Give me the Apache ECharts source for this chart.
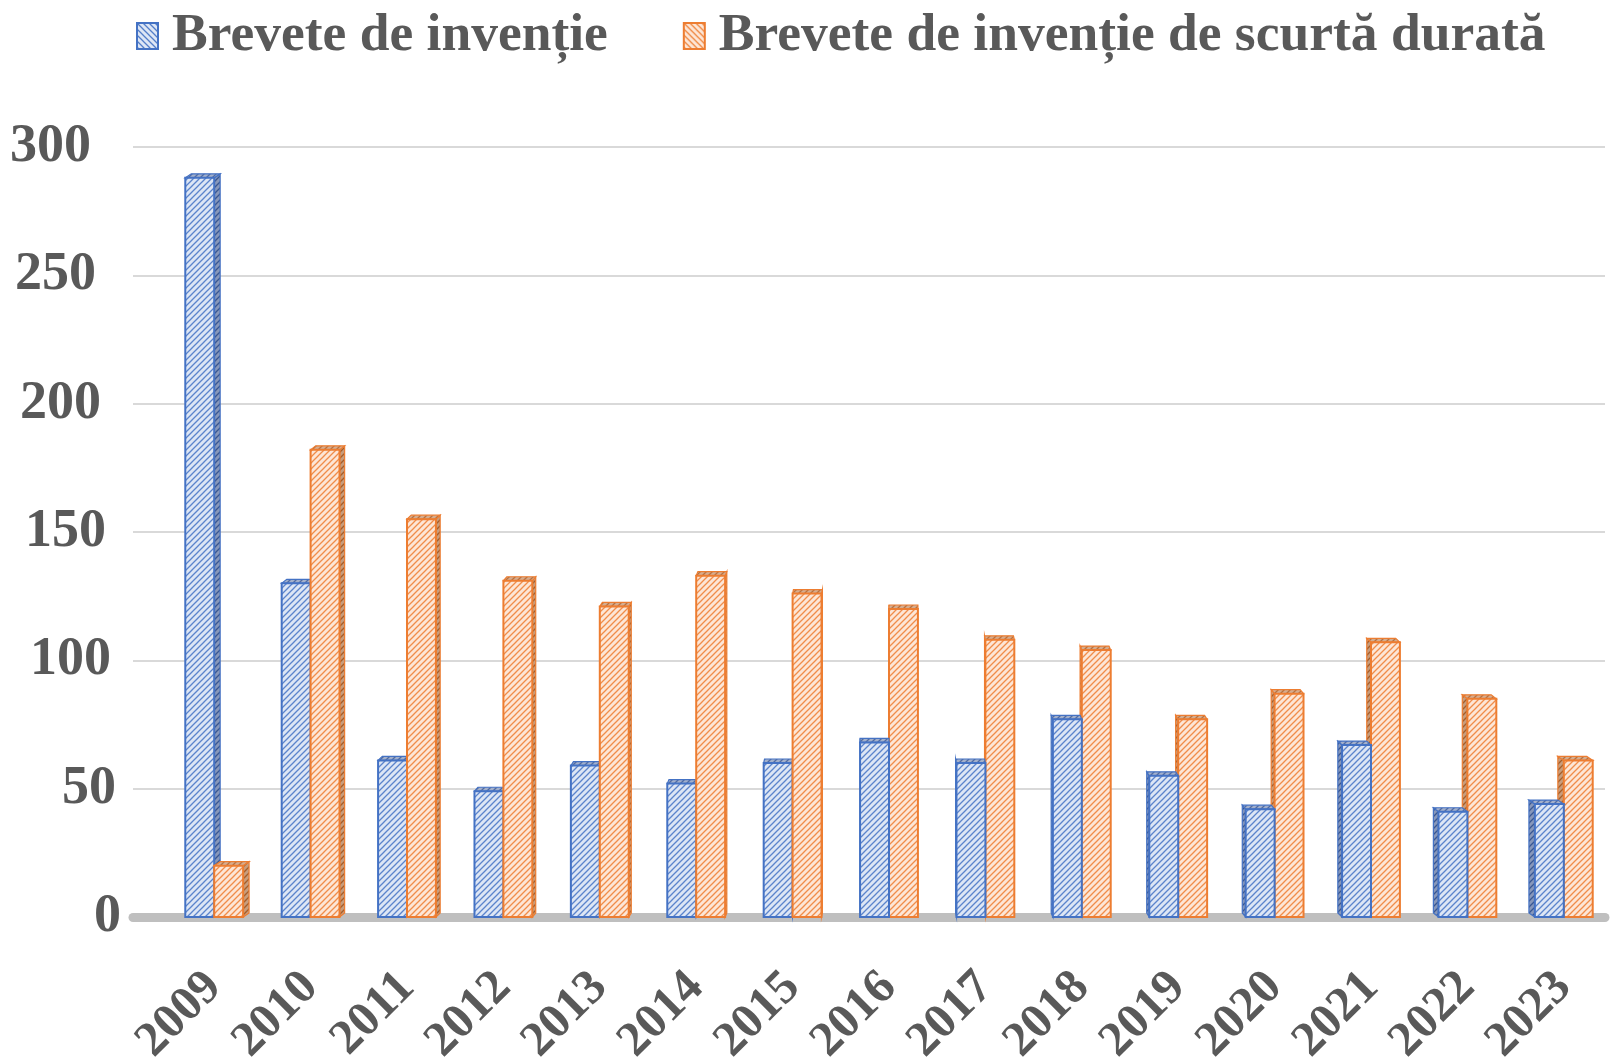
<!DOCTYPE html>
<html>
<head>
<meta charset="utf-8">
<title>Brevete de invenție 2009–2023</title>
<script src="https://cdn.jsdelivr.net/npm/echarts@6/dist/echarts.min.js"></script>
<style>
  html, body { margin: 0; padding: 0; background: #ffffff; }
  #chart { width: 1624px; height: 1063px; }
</style>
</head>
<body>
<div id="chart"></div>
<script>
// Years on the horizontal axis
const categories = ['2009', '2010', '2011', '2012', '2013', '2014', '2015', '2016',
                    '2017', '2018', '2019', '2020', '2021', '2022', '2023'];
// Brevete de invenție
const inventionPatents = [288, 130, 61, 49, 59, 52, 60, 68, 60, 77, 55, 42, 67, 41, 44];
// Brevete de invenție de scurtă durată
const shortTermPatents = [20, 182, 155, 131, 121, 133, 126, 120, 108, 104, 77, 87, 107, 85, 61];
// Value axis ticks
const valueTicks = [0, 50, 100, 150, 200, 250, 300];

const seriesNames = ['Brevete de invenție', 'Brevete de invenție de scurtă durată'];
const FONT = "'Liberation Serif', 'Times New Roman', serif";
const TEXT = '#595959';

// Hatched fill tiles: '/' for the bars, '\' for the legend keys
function hatch(bg, line, backslash, alpha) {
  const s = 6;
  const c = document.createElement('canvas');
  c.width = s; c.height = s;
  const g = c.getContext('2d');
  g.fillStyle = bg;
  g.fillRect(0, 0, s, s);
  g.strokeStyle = line;
  g.globalAlpha = alpha;
  g.lineWidth = 1.3;
  g.beginPath();
  if (backslash) {
    g.moveTo(0, 0); g.lineTo(s, s);
    g.moveTo(-s / 2, s / 2); g.lineTo(s / 2, s * 1.5);
    g.moveTo(s / 2, -s / 2); g.lineTo(s * 1.5, s / 2);
  } else {
    g.moveTo(0, s); g.lineTo(s, 0);
    g.moveTo(-s / 2, s / 2); g.lineTo(s / 2, -s / 2);
    g.moveTo(s / 2, s * 1.5); g.lineTo(s * 1.5, s / 2);
  }
  g.stroke();
  return { image: c, repeat: 'repeat' };
}

const palette = [
  { edge: '#4472c4', front: hatch('#dde6f5', '#4472c4', false, 0.85),
    side: hatch('#8797ba', '#2f4f8f', false, 0.9), cap: hatch('#a3b0cb', '#3b5a98', false, 0.8),
    legend: hatch('#dde6f5', '#4472c4', true, 0.9) },
  { edge: '#ed7d31', front: hatch('#fde6d6', '#ed7d31', false, 0.85),
    side: hatch('#c79d7d', '#a3561f', false, 0.9), cap: hatch('#d4ad90', '#b0612a', false, 0.8),
    legend: hatch('#fde6d6', '#ed7d31', true, 0.9) }
];

// Clustered bar with a shallow side face and top cap (pseudo-3D)
function makeRenderer(seriesIdx) {
  const col = palette[seriesIdx];
  const mid = (categories.length - 1) / 2;
  return function (params, api) {
    const i = api.value(0);
    const base = api.coord([i, 0]);
    const top = api.coord([i, api.value(1)]);
    const cat = api.size([1, 0])[0];
    const bw = cat * 0.3;
    const x0 = base[0] + (seriesIdx === 0 ? -bw : 0);
    const x1 = x0 + bw;
    const yTop = top[1];
    const yBot = base[1];
    const d = Math.abs(i - mid) * 0.85;
    const c = 4;
    const toRight = i < mid;
    // the bar on the open side of the perspective is painted above its neighbour
    const front = toRight ? seriesIdx === 1 : seriesIdx === 0;
    const zb = front ? 10 : 0;

    const sidePts = toRight
      ? [[x1, yTop], [x1 + d, yTop - c], [x1 + d, yBot - c], [x1, yBot]]
      : [[x0, yTop], [x0 - d, yTop - c], [x0 - d, yBot - c], [x0, yBot]];
    const sx = toRight ? d : -d;
    const capPts = [[x0, yTop], [x1, yTop], [x1 + sx, yTop - c], [x0 + sx, yTop - c]];

    return {
      type: 'group',
      children: [
        { type: 'polygon', z2: zb + 1, shape: { points: sidePts },
          style: { fill: col.side, stroke: col.edge, lineWidth: 1.2 } },
        { type: 'polygon', z2: zb + 2, shape: { points: capPts },
          style: { fill: col.cap, stroke: col.edge, lineWidth: 1.2 } },
        { type: 'rect', z2: zb + 3,
          shape: { x: x0, y: yTop, width: bw, height: yBot - yTop },
          style: { fill: col.front, stroke: col.edge, lineWidth: 2 } }
      ]
    };
  };
}

const valueMin = valueTicks[0];
const valueMax = valueTicks[valueTicks.length - 1];
const valueStep = valueTicks[1] - valueTicks[0];

// Value labels step outward towards the top, following the slanted side wall
const tickRich = {};
valueTicks.forEach(v => {
  tickRich['t' + v] = {
    fontFamily: FONT, fontWeight: 'bold', fontSize: 54, color: TEXT,
    padding: [0, Math.round((v - valueMin) / (valueMax - valueMin) * 30), 0, 0]
  };
});

const chart = echarts.init(document.getElementById('chart'), null, { renderer: 'canvas' });

chart.setOption({
  animation: false,
  backgroundColor: '#ffffff',
  legend: {
    left: 131,
    top: 4,
    itemWidth: 21,
    itemHeight: 26,
    itemGap: 75,
    icon: 'rect',
    textStyle: { fontFamily: FONT, fontWeight: 'bold', fontSize: 53.5, color: TEXT,
                 padding: [0, 0, 0, 9] },
    data: seriesNames.map((n, k) => ({
      name: n,
      itemStyle: { color: palette[k].legend, borderColor: palette[k].edge, borderWidth: 2 }
    }))
  },
  grid: [
    // wall gridlines and floor
    { left: 133, right: 19, top: 147, bottom: 146, containLabel: false, outerBoundsMode: 'none' },
    // bars
    { left: 166, right: 12, top: 147, bottom: 146, containLabel: false, outerBoundsMode: 'none' }
  ],
  xAxis: [
    { type: 'value', gridIndex: 0, min: 0, max: 1,
      axisLine: { show: true, lineStyle: { color: '#bfbfbf', width: 9 } },
      axisTick: { show: false }, axisLabel: { show: false }, splitLine: { show: false } },
    { type: 'category', gridIndex: 1, data: categories,
      axisLine: { show: false }, axisTick: { show: false },
      axisLabel: { rotate: 45, margin: 63, fontFamily: FONT, fontWeight: 'bold',
                   fontSize: 49, color: TEXT } }
  ],
  yAxis: [
    { type: 'value', gridIndex: 0, min: valueMin, max: valueMax, interval: valueStep,
      axisLine: { show: false }, axisTick: { show: false },
      splitLine: { lineStyle: { color: '#d9d9d9', width: 2 } },
      axisLabel: { margin: 12, formatter: v => '{t' + v + '|' + v + '}', rich: tickRich } },
    { type: 'value', gridIndex: 1, min: valueMin, max: valueMax, interval: valueStep, show: false }
  ],
  series: [
    { name: seriesNames[0], type: 'custom', xAxisIndex: 1, yAxisIndex: 1,
      itemStyle: { color: palette[0].edge },
      encode: { x: 0, y: 1 },
      data: categories.map((_, i) => [i, inventionPatents[i]]),
      renderItem: makeRenderer(0) },
    { name: seriesNames[1], type: 'custom', xAxisIndex: 1, yAxisIndex: 1,
      itemStyle: { color: palette[1].edge },
      encode: { x: 0, y: 1 },
      data: categories.map((_, i) => [i, shortTermPatents[i]]),
      renderItem: makeRenderer(1) }
  ]
});
</script>
</body>
</html>
